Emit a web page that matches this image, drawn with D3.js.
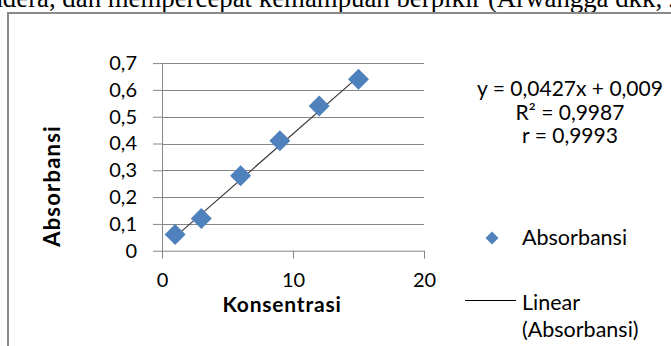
<!DOCTYPE html>
<html><head><meta charset="utf-8">
<script src="https://cdn.jsdelivr.net/npm/d3@7"></script>
<style>
html,body{margin:0;padding:0;background:#fff;overflow:hidden}
svg{display:block}
</style></head>
<body>
<svg id="c" width="671" height="346"></svg>
<script>
// ---- data ----
const konsentrasi = [1, 3, 6, 9, 12, 15];
const absorbansi = [0.06, 0.12, 0.28, 0.41, 0.54, 0.64];
const trendSlope = 0.0427;
const trendIntercept = 0.009;
const xTicks = [0, 10, 20];
const yTicks = [0, 0.1, 0.2, 0.3, 0.4, 0.5, 0.6, 0.7];
const equationLines = ["y = 0,0427x + 0,009", "R\u00B2 = 0,9987", "r  = 0,9993"];
const seriesName = "Absorbansi";
const trendName = ["Linear", "(Absorbansi)"];
const xTitle = "Konsentrasi";
const yTitle = "Absorbansi";
const pageText = "indera, dan mempercepat kemampuan berpikir (Arwangga dkk, 2018)";

const svg = d3.select("#c");
const font = "Lato, 'Open Sans', sans-serif";
const blue = "#4F81BD";
const grid = "#868686";

// page text above the frame (cropped by the page edge as in the source)
svg.append("text").attr("x", -18).attr("y", 6.5)
  .attr("font-family", "'Liberation Serif','Times New Roman',serif")
  .attr("font-size", 26.8).attr("fill", "#000").text(pageText);

// chart frame
svg.append("path").attr("d", "M8,346 V13 H671")
  .attr("fill", "none").attr("stroke", "#8a8a8a").attr("stroke-width", 2);

const x = d3.scaleLinear().domain([0, 20]).range([162, 424]);
const y = d3.scaleLinear().domain([0, 0.7]).range([250.7, 63.1]);
const fmt = d => d3.format("")(+d.toFixed(1)).replace(".", ",");

// gridlines
svg.append("g").selectAll("line").data(yTicks.slice(1)).join("line")
  .attr("x1", x(0)).attr("x2", x(20))
  .attr("y1", d => Math.round(y(d)) + 0.5).attr("y2", d => Math.round(y(d)) + 0.5)
  .attr("stroke", grid).attr("stroke-width", 1);

// y axis
const ya = svg.append("g").attr("transform", `translate(${x(0)},0)`)
  .call(d3.axisLeft(y).tickValues(yTicks).tickFormat(fmt).tickSize(9).tickSizeOuter(0).tickPadding(16));
// x axis
const xa = svg.append("g").attr("transform", `translate(0,${y(0)})`)
  .call(d3.axisBottom(x).tickValues(xTicks).tickFormat(d3.format("d")).tickSize(8).tickSizeOuter(0).tickPadding(14));
[ya, xa].forEach(g => {
  g.selectAll("path,line").attr("stroke", grid).attr("stroke-width", 1);
  g.selectAll("text").attr("font-family", font).attr("font-size", 20).attr("fill", "#000");
});

// axis titles
svg.append("text").attr("transform", "translate(60,186) rotate(-90)")
  .attr("text-anchor", "middle").attr("font-family", font).attr("font-weight", "bold")
  .attr("font-size", 22).attr("letter-spacing", 1.2).text(yTitle);
svg.append("text").attr("x", 282).attr("y", 312)
  .attr("text-anchor", "middle").attr("font-family", font).attr("font-weight", "bold")
  .attr("font-size", 21).attr("letter-spacing", 0.8).text(xTitle);

// trendline
const xMin = d3.min(konsentrasi), xMax = d3.max(konsentrasi);
svg.append("line")
  .attr("x1", x(xMin)).attr("y1", y(trendSlope * xMin + trendIntercept))
  .attr("x2", x(xMax)).attr("y2", y(trendSlope * xMax + trendIntercept))
  .attr("stroke", "#3a3a3a").attr("stroke-width", 1.2);

// markers
const diamond = r => `M0,${-r}L${r},0L0,${r}L${-r},0Z`;
svg.append("g").selectAll("path").data(konsentrasi.map((k, i) => [k, absorbansi[i]])).join("path")
  .attr("transform", d => `translate(${x(d[0])},${y(d[1])})`)
  .attr("d", diamond(10.5)).attr("fill", blue);

// equation
svg.append("g").selectAll("text").data(equationLines).join("text")
  .attr("x", 570).attr("y", (d, i) => 96 + i * 23.5)
  .attr("text-anchor", "middle").attr("font-family", font).attr("font-size", 21)
  .attr("fill", "#000").text(d => d);

// legend
svg.append("path").attr("transform", "translate(492,238)").attr("d", diamond(6.5)).attr("fill", blue);
svg.append("text").attr("x", 522).attr("y", 245).attr("font-family", font).attr("font-size", 21.5).text(seriesName);
svg.append("line").attr("x1", 465).attr("x2", 516).attr("y1", 300.5).attr("y2", 300.5)
  .attr("stroke", "#000").attr("stroke-width", 1.2);
svg.append("g").selectAll("text").data(trendName).join("text")
  .attr("x", 522).attr("y", (d, i) => 310 + i * 26.5).attr("font-family", font).attr("font-size", 21.5).text(d => d);
</script>
</body></html>
